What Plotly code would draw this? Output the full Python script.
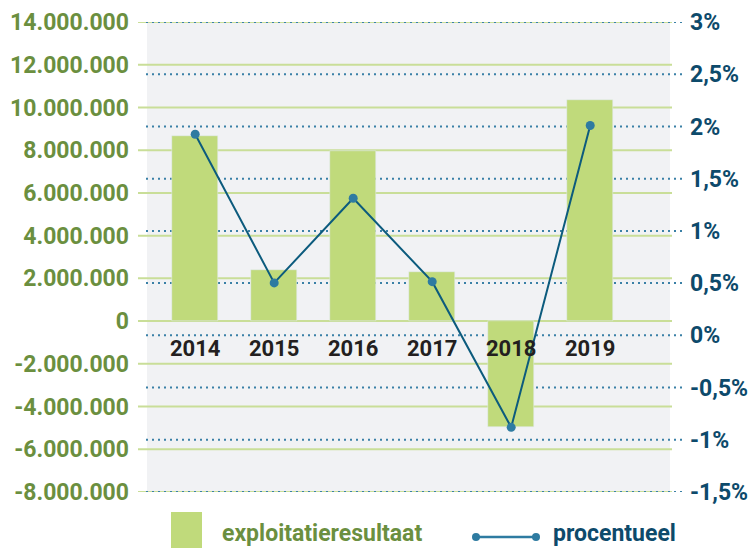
import plotly.graph_objects as go

# ---- data ----
years = ["2014", "2015", "2016", "2017", "2018", "2019"]
exploitatieresultaat = [8660000, 2410000, 7960000, 2320000, -4950000, 10370000]
procentueel = [1.925, 0.502, 1.312, 0.514, -0.881, 2.009]

left_tickvals = [14e6, 12e6, 10e6, 8e6, 6e6, 4e6, 2e6, 0, -2e6, -4e6, -6e6, -8e6]
left_ticktext = ["14.000.000", "12.000.000", "10.000.000", "8.000.000", "6.000.000",
                 "4.000.000", "2.000.000", "0", "-2.000.000", "-4.000.000",
                 "-6.000.000", "-8.000.000"]
right_tickvals = [3, 2.5, 2, 1.5, 1, 0.5, 0, -0.5, -1, -1.5]
right_ticktext = ["3%", "2,5%", "2%", "1,5%", "1%", "0,5%", "0%", "-0,5%", "-1%", "-1,5%"]

legend_labels = ["exploitatieresultaat", "procentueel"]

# ---- styles ----
W, H = 749, 548
ML, MR, MT, MB = 147, 79, 22, 56
PW, PH = W - ML - MR, H - MT - MB
BAR = "#C0DA7B"
GRID_GREEN = "#C9DE98"
DOT_BLUE = "#3A80A6"
LINE = "#0C5B7D"
MARKER = "#2E7BA1"
GREEN_TXT = "#6B8F3F"
BLUE_TXT = "#0D4A6B"
DARK_TXT = "#231F20"
FONT = "Roboto"


def px_x(p):
    return (p - ML) / PW


def px_y(p):
    return (H - MB - p) / PH


fig = go.Figure()
fig.add_trace(go.Bar(x=years, y=exploitatieresultaat, marker_color=BAR, width=0.58,
                     name=legend_labels[0], yaxis="y", showlegend=False))
fig.add_trace(go.Scatter(x=years, y=procentueel, mode="lines+markers", name=legend_labels[1],
                         line=dict(color=LINE, width=2),
                         marker=dict(color=MARKER, size=9),
                         yaxis="y2", showlegend=False))

shapes = []
for v in left_tickvals:
    shapes.append(dict(type="line", xref="paper", yref="y", x0=px_x(138), x1=px_x(672),
                       y0=v, y1=v, line=dict(color=GRID_GREEN, width=2), layer="below"))
for v in right_tickvals:
    shapes.append(dict(type="line", xref="paper", yref="y2", x0=px_x(146), x1=px_x(685),
                       y0=v, y1=v, line=dict(color=DOT_BLUE, width=2, dash="2px,4px"),
                       layer="below"))
# legend symbols
shapes.append(dict(type="rect", xref="paper", yref="paper", x0=px_x(171), x1=px_x(202),
                   y0=px_y(552), y1=px_y(512), fillcolor=BAR, line=dict(width=0)))
shapes.append(dict(type="line", xref="paper", yref="paper", x0=px_x(476), x1=px_x(536),
                   y0=px_y(537), y1=px_y(537), line=dict(color=MARKER, width=2.5)))
for cx in (476, 536):
    shapes.append(dict(type="circle", xref="paper", yref="paper",
                       x0=px_x(cx - 4), x1=px_x(cx + 4), y0=px_y(537 + 4), y1=px_y(537 - 4),
                       fillcolor=MARKER, line=dict(width=0)))

annotations = []
for i, yr in enumerate(years):
    annotations.append(dict(x=i, y=0, xref="x", yref="y", text=yr, showarrow=False,
                            yanchor="middle", yshift=-27,
                            font=dict(family=FONT, size=22, color=DARK_TXT, weight="bold")))
annotations.append(dict(x=px_x(221), y=px_y(533), xref="paper", yref="paper",
                        text=legend_labels[0], showarrow=False, xanchor="left", yanchor="middle",
                        borderpad=0,
                        font=dict(family=FONT, size=23, color=GREEN_TXT, weight="bold")))
annotations.append(dict(x=px_x(552), y=px_y(533), xref="paper", yref="paper",
                        text=legend_labels[1], showarrow=False, xanchor="left", yanchor="middle",
                        borderpad=0,
                        font=dict(family=FONT, size=23, color=BLUE_TXT, weight="bold")))

fig.update_layout(
    width=W, height=H,
    margin=dict(l=ML, r=MR, t=MT, b=MB, pad=0, autoexpand=False),
    paper_bgcolor="white", plot_bgcolor="#F1F2F4",
    showlegend=False,
    bargap=0,
    xaxis=dict(type="category", range=[-0.61, 6.01], showticklabels=False,
               showgrid=False, zeroline=False, showline=False, fixedrange=True,
               automargin=False),
    yaxis=dict(range=[-8e6, 14e6], tickvals=left_tickvals, ticktext=left_ticktext,
               showgrid=False, zeroline=False, showline=False, ticks="",
               ticklabelstandoff=17, automargin=False,
               tickfont=dict(family=FONT, size=23, color=GREEN_TXT, weight="bold")),
    yaxis2=dict(range=[-1.5, 3], overlaying="y", side="right", tickvals=right_tickvals,
                ticktext=right_ticktext, showgrid=False, zeroline=False, showline=False,
                ticks="", ticklabelstandoff=19, automargin=False,
                tickfont=dict(family=FONT, size=23, color=BLUE_TXT, weight="bold")),
    shapes=shapes,
    annotations=annotations,
)

fig.write_html("out.html", config={"displayModeBar": False},
               post_script="document.body.style.margin='0';document.body.style.overflow='hidden';")
